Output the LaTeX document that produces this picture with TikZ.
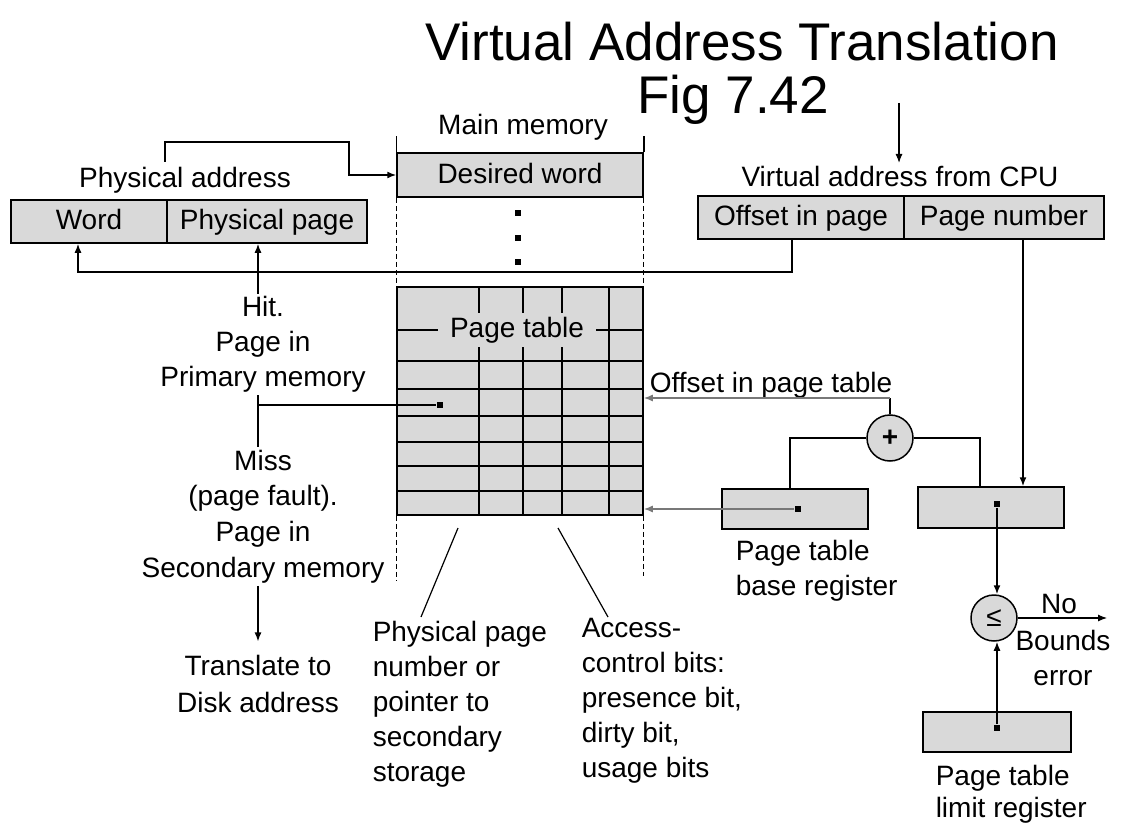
\documentclass[tikz,border=0pt]{standalone}
\usepackage{fontspec}
\setmainfont{Liberation Sans}
\usetikzlibrary{arrows.meta,positioning,calc}
\definecolor{BOX-GRAY}{RGB}{217,217,217}
\definecolor{LINE-GRAY}{RGB}{120,120,120}

\begin{document}
\begin{tikzpicture}[x=1pt, y=-1pt, line width=1.5pt,
  every node/.style={font=\fontsize{28}{35}\selectfont, inner sep=2pt},
  reg/.style={draw, fill=BOX-GRAY, inner sep=0pt, minimum height=43pt, text height=20pt, text depth=4pt},
  sqdot/.style={fill, inner sep=0pt, minimum size=6pt},
  opcircle/.style={circle, draw, fill=BOX-GRAY, inner sep=0pt, minimum size=46pt},
  memdash/.style={line width=1.2pt, dash pattern=on 5pt off 3pt},
  arr/.style={-{Latex[length=9pt,width=7pt]}},
  garr/.style={arr, LINE-GRAY}]
  \useasboundingbox (0,0) rectangle (1125,824);

  % Title
  \node[font=\fontsize{53}{60}\selectfont, anchor=base] (title) at (742,61) {Virtual Address Translation};
  \node[font=\fontsize{53}{60}\selectfont, anchor=base] (fig) at (733,114) {Fig 7.42};

  % Physical address register
  \node[reg, minimum width=156pt] (word) at (89,221.5) {Word};
  \node[reg, minimum width=200pt] (ppage) at (267,221.5) {Physical page};
  \node[anchor=base] (palab) at (185,187) {Physical address};

  % Main memory
  \node[reg, minimum width=246pt, minimum height=44pt] (dword) at (520,175) {Desired word};
  \node[anchor=base] (mmlab) at (523,135) {Main memory};
  \draw (dword.north west) -- ++(0,-16);
  \draw (dword.north east) -- ++(0,-16);
  \node[sqdot] (dot1) at (518,213) {};
  \node[sqdot] (dot2) at (518,238) {};
  \node[sqdot] (dot3) at (518,262) {};

  % Page table
  \node[draw, fill=BOX-GRAY, inner sep=0pt, minimum width=246pt, minimum height=228pt] (ptab) at (520,401) {};
  \foreach \y in {330,361,389,416,442,466,491}
    \draw (ptab.west |- 0,\y) -- (ptab.east |- 0,\y);
  \foreach \x in {479,523,562,609}
    \draw (\x,0 |- ptab.north) -- (\x,0 |- ptab.south);
  \node[fill=BOX-GRAY, inner xsep=12pt, inner ysep=4pt] (ptlab) at (517,330) {Page table};
  \node[sqdot] (ptdot) at (440,405) {};

  % Dashed memory edges
  \draw[memdash] (dword.south west) -- (ptab.north west);
  \draw[memdash] (dword.south east) -- (ptab.north east);
  \draw[memdash] (ptab.south west) -- ++(0,65);
  \draw[memdash] (ptab.south east) -- ++(0,60);

  % Physical address to desired word
  \coordinate (pastart) at (165,162);
  \draw[arr] (pastart) |- (349,142) |- (dword.west);

  % Virtual address register
  \node[reg, minimum width=206pt] (off) at (801,217.5) {Offset in page};
  \node[reg, minimum width=200pt] (pnum) at (1004,217.5) {Page number};
  \node[anchor=base] (valab) at (900,186) {Virtual address from CPU};
  \coordinate (cpu) at (899,103);
  \draw[arr, line width=1.1pt] (cpu) -- (cpu |- valab.north);

  % Offset in page goes straight to the word field
  \coordinate (bus) at (0,272);
  \coordinate (wordin) at ([xshift=-11pt]word.south);
  \draw[arr] ([xshift=-9pt]off.south) |- (wordin |- bus) -- (wordin);

  % Hit / miss
  \node[align=center] (hit) at (263,344.5) {Hit.\\Page in\\Primary memory};
  \node[align=center, font=\fontsize{28}{35.7}\selectfont] (miss) at (263,516.5) {Miss\\(page fault).\\Page in\\Secondary memory};
  \node[align=center, font=\fontsize{28}{37}\selectfont] (trans) at (258,684) {Translate to\\Disk address};
  \draw[arr] ([xshift=-5pt]hit.north) -- ([xshift=-5pt]hit.north |- ppage.south);
  \draw ([xshift=-5pt]hit.south) -- ([xshift=-5pt]miss.north);
  \coordinate (hmj) at (258,405);
  \draw (hmj) -- (ptdot);
  \draw[arr] (trans.north |- miss.south) -- ([yshift=11pt]trans.north);

  % Notes under the page table
  \node[align=left, anchor=west] (physn) at (370,704) {Physical page\\number or\\pointer to\\secondary\\storage};
  \node[align=left, anchor=west] (accn) at (579,700.5) {Access-\\control bits:\\presence bit,\\dirty bit,\\usage bits};
  \coordinate (physc) at (458,528);
  \coordinate (accc) at (558,528);
  \draw[line width=1.2pt] (physc) -- (421,617);
  \draw[line width=1.2pt] (accc) -- (608,617);

  % Adder for the page table entry
  \node[opcircle] (plus) at (890,438) {\textbf{+}};
  \node[anchor=base] (otlab) at (771,392) {Offset in page table};
  \coordinate (tabrow) at ([yshift=3pt]ptab.east);
  \draw (plus.north) -- (plus.north |- tabrow);
  \draw[garr] (plus.north |- tabrow) -- (tabrow);

  % Page table base register
  \node[reg, minimum width=146pt, minimum height=40pt] (base) at (795,509) {};
  \node[sqdot] (bdot) at (798,509) {};
  \node[align=left, anchor=west] (baselab) at (733,571) {Page table\\base register};
  \draw (plus.west) -| ([xshift=-5pt]base.north);
  \draw[garr] (bdot) -- (bdot -| ptab.east);

  % Page number register
  \node[reg, minimum width=146pt, minimum height=41pt] (rreg) at (991,507.5) {};
  \node[sqdot] (rdot) at (997,504) {};
  \draw (plus.east) -| ([xshift=-11pt]rreg.north);
  \draw[arr] ([xshift=19pt]pnum.south) -- ([xshift=19pt]pnum.south |- rreg.north);

  % Bounds check
  \node[opcircle] (leq) at (994,618) {≤};
  \draw[arr] (rdot) -- (rdot |- leq.north);
  \node[anchor=base] (nolab) at (1059,613) {No};
  \coordinate (noend) at (1107,618);
  \draw[arr, line width=1.1pt] (leq.east) -- (noend);
  \node[align=center] (bndlab) at (1063,657.5) {Bounds\\error};

  % Page table limit register
  \node[reg, minimum width=148pt, minimum height=40pt] (lreg) at (997,732) {};
  \node[sqdot] (ldot) at (997,728) {};
  \draw[arr] (ldot) -- (ldot |- leq.south);
  \node[align=left, anchor=west, font=\fontsize{28}{32}\selectfont] (limlab) at (933,794) {Page table\\limit register};
\end{tikzpicture}
\end{document}
